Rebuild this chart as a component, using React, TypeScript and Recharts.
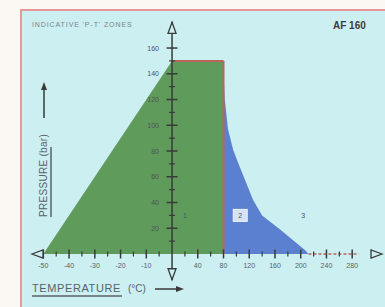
import React from 'react';
import {
  ComposedChart, Area, XAxis, YAxis, ReferenceLine, ReferenceDot
} from 'recharts';

// zone 1 (green) outline: temperature °C / pressure bar
const greenTemps = [-50, 0, 80, 80];
const greenPressures = [0, 150, 150, 0];
// zone 2 (blue) upper edge
const blueTemps = [80, 82, 87, 95, 101, 113, 126, 140, 168, 190, 207, 212];
const bluePressures = [140, 120, 97, 81, 73, 58, 42, 30, 19, 10, 3, 0];

const xMajorTicks = [-50, -40, -30, -20, -10, 40, 80, 120, 160, 200, 240, 280];
const xMinorTicks = [-45, -35, -25, -15, -5, 20, 60, 100, 140, 180, 220, 260];
const yMajorTicks = [20, 40, 60, 80, 100, 120, 140, 160];
const yMinorTicks = [10, 30, 50, 70, 90, 110, 130, 150];

const zoneLabels = [
  { temp: 20, pressure: 30, text: '1', boxed: false },
  { temp: 106, pressure: 30, text: '2', boxed: true },
  { temp: 204, pressure: 30, text: '3', boxed: false },
];

// below zero the axis is graduated every 10 °C, above zero every 40 °C
const toPos = (t: number) => (t < 0 ? t / 10 : t / 40);

const greenData = greenTemps.map((t, i) => ({ pos: toPos(t), p: greenPressures[i] }));
const blueData = blueTemps.map((t, i) => ({ pos: toPos(t), p: bluePressures[i] }));

const FONT = '"Liberation Sans", Arial, sans-serif';
const AXIS = '#3a3a3a';
const EDGE = '#b9655c';

const App: React.FC = () => {
  return (
    <div style={{ position: 'fixed', left: 0, top: 0, width: 385, height: 307, background: '#fbf8f3', fontFamily: FONT }}>
      <div style={{
        position: 'absolute', left: 20, top: 9, width: 365, height: 298,
        background: '#cceff1', borderLeft: '2px solid #e59a9a', borderTop: '2px solid #e59a9a'
      }} />
      <div style={{ position: 'absolute', left: 0, top: 0 }}>
        <ComposedChart width={385} height={307} margin={{ top: 30, right: 5, bottom: 53, left: 32 }}>
          <XAxis type="number" dataKey="pos" domain={[-5.44, 8.08]} allowDataOverflow
            height={0} tick={false} tickLine={false} axisLine={{ stroke: AXIS, strokeWidth: 1.5 }} />
          <YAxis type="number" domain={[0, 174]} allowDataOverflow hide width={0} />
          <Area data={greenData} dataKey="p" type="linear" fill="#5f9c5b" fillOpacity={1}
            stroke="none" isAnimationActive={false} />
          <Area data={blueData} dataKey="p" type="linear" fill="#5a80cf" fillOpacity={1}
            stroke="none" isAnimationActive={false} />
          <ReferenceLine segment={[{ x: toPos(0), y: 150 }, { x: toPos(80), y: 150 }]} stroke={EDGE} strokeWidth={2} />
          <ReferenceLine segment={[{ x: toPos(80), y: 150 }, { x: toPos(80), y: 0 }]} stroke={EDGE} strokeWidth={2} />
          <ReferenceLine segment={[{ x: toPos(212), y: 0 }, { x: toPos(290), y: 0 }]} stroke={EDGE} strokeWidth={1.5} strokeDasharray="3 2" />
          <ReferenceLine segment={[{ x: 0, y: -20 }, { x: 0, y: 180 }]} stroke={AXIS} strokeWidth={1.5} ifOverflow="visible" />
          {xMinorTicks.map(t => (
            <ReferenceDot key={`xm${t}`} x={toPos(t)} y={0} ifOverflow="visible"
              shape={(p: any) => <line x1={p.cx} x2={p.cx} y1={p.cy - 2.5} y2={p.cy + 2.5} stroke={AXIS} strokeWidth={1.2} />} />
          ))}
          {xMajorTicks.map(t => (
            <ReferenceDot key={`x${t}`} x={toPos(t)} y={0} ifOverflow="visible"
              shape={(p: any) => (
                <g>
                  <line x1={p.cx} x2={p.cx} y1={p.cy - 4.5} y2={p.cy + 4.5} stroke={AXIS} strokeWidth={1.5} />
                  <text x={p.cx} y={p.cy + 14} textAnchor="middle" fontSize={7} fill="#5a6266" fontFamily={FONT}>{t}</text>
                </g>
              )} />
          ))}
          {yMinorTicks.map(v => (
            <ReferenceDot key={`ym${v}`} x={0} y={v} ifOverflow="visible"
              shape={(p: any) => <line x1={p.cx - 3} x2={p.cx + 3} y1={p.cy} y2={p.cy} stroke={AXIS} strokeWidth={1.2} />} />
          ))}
          {yMajorTicks.map(v => (
            <ReferenceDot key={`y${v}`} x={0} y={v} ifOverflow="visible"
              shape={(p: any) => (
                <g>
                  <line x1={p.cx - 5.5} x2={p.cx + 5.5} y1={p.cy} y2={p.cy} stroke={AXIS} strokeWidth={1.5} />
                  <text x={p.cx - 13} y={p.cy + 2.5} textAnchor="end" fontSize={7} fill="#4e5658" fontFamily={FONT}>{v}</text>
                </g>
              )} />
          ))}
          {/* arrow heads on the axis ends */}
          <ReferenceDot x={0} y={180} ifOverflow="visible"
            shape={(p: any) => <path d={`M${p.cx},${p.cy} L${p.cx - 4},${p.cy + 11} L${p.cx + 4},${p.cy + 11} Z`} fill="#cceff1" stroke={AXIS} strokeWidth={1.3} />} />
          <ReferenceDot x={0} y={-20} ifOverflow="visible"
            shape={(p: any) => <path d={`M${p.cx},${p.cy} L${p.cx - 4},${p.cy - 11} L${p.cx + 4},${p.cy - 11} Z`} fill="#cceff1" stroke={AXIS} strokeWidth={1.3} />} />
          <ReferenceDot x={-5.44} y={0} ifOverflow="visible"
            shape={(p: any) => <path d={`M${p.cx},${p.cy} L${p.cx + 11},${p.cy - 4} L${p.cx + 11},${p.cy + 4} Z`} fill="#cceff1" stroke={AXIS} strokeWidth={1.3} />} />
          <ReferenceDot x={8.08} y={0} ifOverflow="visible"
            shape={(p: any) => <path d={`M${p.cx + 2},${p.cy} L${p.cx - 9},${p.cy - 4} L${p.cx - 9},${p.cy + 4} Z`} fill="#cceff1" stroke={AXIS} strokeWidth={1.3} />} />
          {zoneLabels.map(z => (
            <ReferenceDot key={z.text} x={toPos(z.temp)} y={z.pressure} ifOverflow="visible"
              shape={(p: any) => (
                <g>
                  {z.boxed && <rect x={p.cx - 7} y={p.cy - 6} width={14} height={12} fill="#d6e3f6" stroke="#eef3fb" />}
                  <text x={p.cx} y={p.cy + 2.5} textAnchor="middle" fontSize={7} fill="#4a5560" fontFamily={FONT}>{z.text}</text>
                </g>
              )} />
          ))}
        </ComposedChart>
      </div>
      {/* titles and axis names */}
      <svg width={385} height={307} style={{ position: 'absolute', left: 0, top: 0, pointerEvents: 'none' }}>
        <text x={32} y={27} fontSize={7} letterSpacing={0.9} fill="#76868c" fontFamily={FONT}>INDICATIVE 'P-T' ZONES</text>
        <text x={333} y={29} fontSize={10} fontWeight="bold" fill="#3c3c3c" fontFamily={FONT}>AF 160</text>
        <g transform="translate(47,217) rotate(-90)">
          <text x={0} y={0} fontSize={10} letterSpacing={0.3} fill="#5a6266" fontFamily={FONT}>PRESSURE (bar)</text>
          <line x1={0} x2={70} y1={4} y2={4} stroke="#5a6266" strokeWidth={1.5} />
        </g>
        <line x1={44} x2={44} y1={118} y2={86} stroke={AXIS} strokeWidth={1.5} />
        <path d="M44,82 L41,90 L47,90 Z" fill={AXIS} />
        <text x={32} y={292} fontSize={11} letterSpacing={0.6} fill="#5a6266" fontFamily={FONT}>TEMPERATURE</text>
        <line x1={32} x2={122} y1={296} y2={296} stroke="#5a6266" strokeWidth={1.5} />
        <text x={128} y={292} fontSize={10} fill="#5a6266" fontFamily={FONT}>(°C)</text>
        <line x1={155} x2={178} y1={289} y2={289} stroke={AXIS} strokeWidth={1.5} />
        <path d="M184,289 L176,286 L176,292 Z" fill={AXIS} />
      </svg>
    </div>
  );
};

export default App;
